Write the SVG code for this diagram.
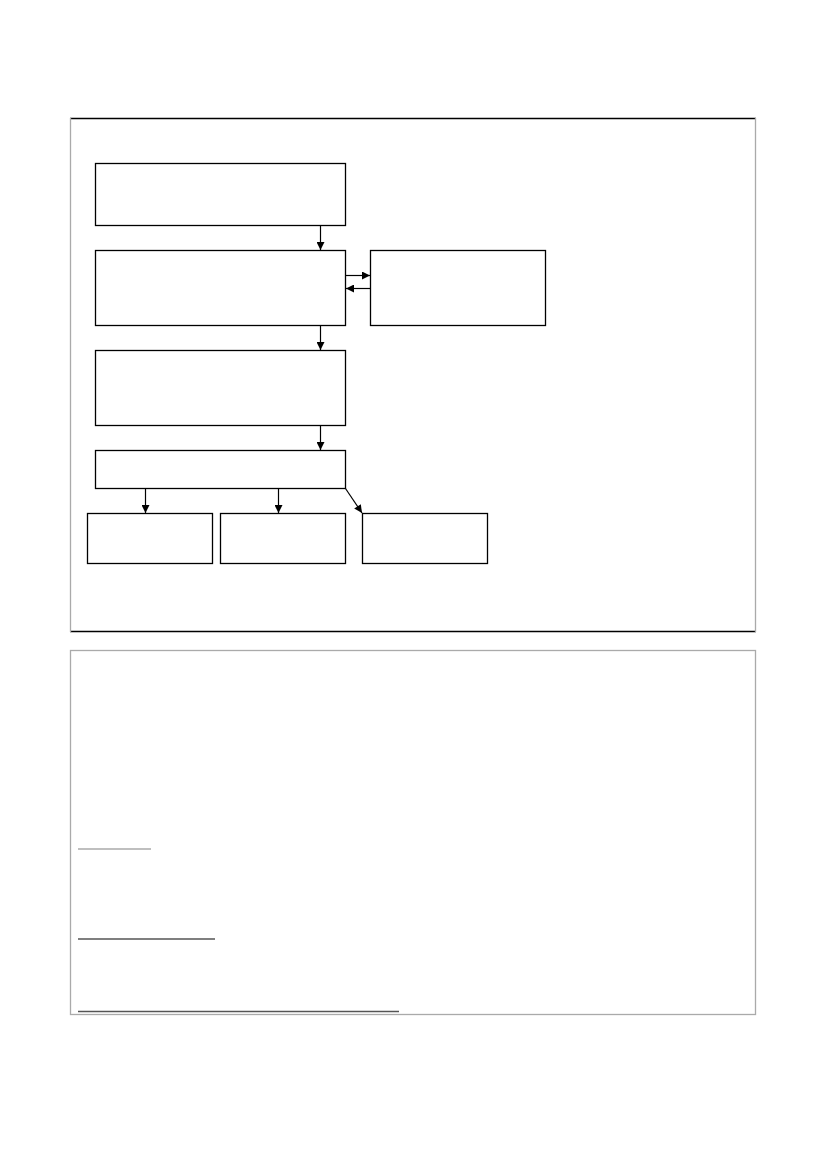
<svg xmlns="http://www.w3.org/2000/svg" width="826" height="1169" viewBox="0 0 826 1169">
<style>
.box{fill:#fff;stroke:#000;stroke-width:1.3}
.con{stroke:#000;stroke-width:1.2;fill:none;marker-end:url(#ah)}
.gray{stroke:#aaa;stroke-width:1.3}
.blk{stroke:#000;stroke-width:1.3}
.ul{stroke:#555;stroke-width:1.3}
</style>
<defs>
<marker id="ah" viewBox="0 0 10 10" refX="10" refY="5" markerWidth="9" markerHeight="8" markerUnits="userSpaceOnUse" orient="auto">
<path d="M0,0 L10,5 L0,10 z" fill="#000"/>
</marker>
</defs>
<rect width="826" height="1169" fill="#fff"/>
<g id="frame-top">
<line class="blk" x1="70" y1="118.5" x2="756" y2="118.5"/>
<line class="blk" x1="70" y1="631.5" x2="756" y2="631.5"/>
<line class="gray" x1="70.5" y1="118" x2="70.5" y2="632"/>
<line class="gray" x1="755.5" y1="118" x2="755.5" y2="632"/>
</g>
<g id="frame-bottom">
<rect x="70.5" y="650.5" width="685" height="364" fill="none" stroke="#aaa" stroke-width="1.3"/>
<line x1="78" y1="849" x2="151" y2="849" stroke="#aaa" stroke-width="1.3"/>
<line class="ul" x1="78" y1="939" x2="215" y2="939"/>
<line class="ul" x1="78" y1="1011.5" x2="399" y2="1011.5"/>
</g>
<g id="n1"><rect class="box" x="95.5" y="163.5" width="250" height="62"/></g>
<g id="n2"><rect class="box" x="95.5" y="250.5" width="250" height="75"/></g>
<g id="n3"><rect class="box" x="370.5" y="250.5" width="175" height="75"/></g>
<g id="n4"><rect class="box" x="95.5" y="350.5" width="250" height="75"/></g>
<g id="n5"><rect class="box" x="95.5" y="450.5" width="250" height="38"/></g>
<g id="n6"><rect class="box" x="87.5" y="513.5" width="125" height="50"/></g>
<g id="n7"><rect class="box" x="220.5" y="513.5" width="125" height="50"/></g>
<g id="n8"><rect class="box" x="362.5" y="513.5" width="125" height="50"/></g>
<g id="connectors">
<line class="con" x1="320.5" y1="226" x2="320.5" y2="250"/>
<line class="con" x1="346" y1="275.5" x2="370" y2="275.5"/>
<line class="con" x1="370" y1="288.5" x2="346" y2="288.5"/>
<line class="con" x1="320.5" y1="326" x2="320.5" y2="350"/>
<line class="con" x1="320.5" y1="426" x2="320.5" y2="450"/>
<line class="con" x1="145.5" y1="489" x2="145.5" y2="513"/>
<line class="con" x1="278.5" y1="489" x2="278.5" y2="513"/>
<line class="con" x1="345.5" y1="488.5" x2="362" y2="513"/>
</g>
</svg>
